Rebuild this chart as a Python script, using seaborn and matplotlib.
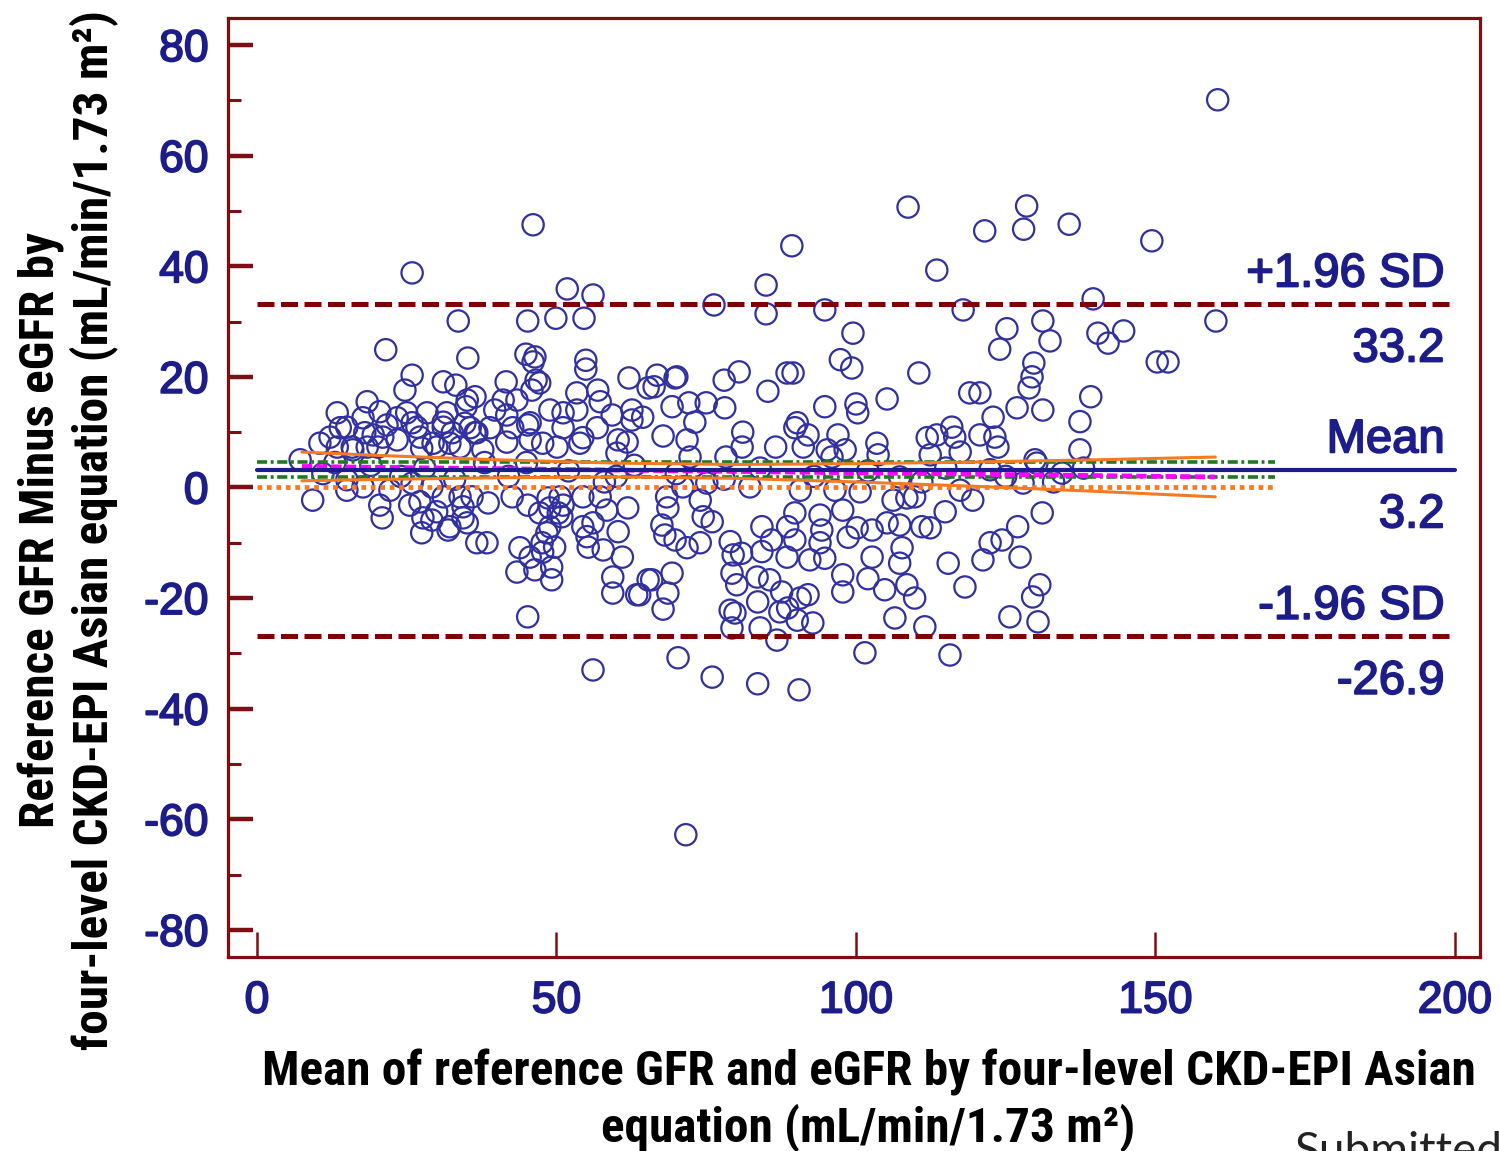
import matplotlib
matplotlib.use("Agg")
import matplotlib.pyplot as plt
from matplotlib import font_manager
import matplotlib.patheffects as pe
import numpy as np
import pandas as pd
import seaborn as sns

# ---- agreement statistics ----
sd_upper = 33.2
bias_mean = 3.2
sd_lower = -26.9
bias_ci = [4.6, 1.8]          # 95% CI of the mean difference
equality_level = 0.0

# regression of difference on mean, with its 95% confidence band
reg_x = [7.5, 160.0]
reg_y = [3.8, 1.9]
band_x = [7.5, 20, 40, 60, 80, 100, 120, 140, 160]
band_hi = [6.4, 5.8, 5.0, 4.4, 4.15, 4.3, 4.6, 5.0, 5.5]
band_lo = [1.2, 1.45, 1.75, 1.9, 1.65, 1.0, 0.2, -0.7, -1.7]

# ---- paired observations (mean of both methods, difference) ----
pts_outer = [
    (160.4, 70.1), (108.7, 50.7), (128.5, 50.9), (128.0, 46.7), (121.5, 46.4),
    (135.6, 47.6), (149.4, 44.6), (89.3, 43.7), (46.1, 47.5), (25.9, 38.8),
    (113.5, 39.3), (51.8, 35.9), (56.1, 34.8), (85.0, 36.6), (76.3, 33.0),
    (85.0, 31.4), (94.8, 32.1), (117.9, 32.1), (139.6, 34.1), (160.1, 30.1),
    (131.2, 30.1), (125.2, 28.7), (140.4, 27.9), (144.7, 28.3), (142.1, 26.1),
    (132.4, 26.5), (124.0, 25.0), (99.5, 27.9), (150.3, 22.7), (152.1, 22.7),
    (45.2, 30.1), (49.9, 30.6), (54.6, 30.6), (33.6, 30.1), (21.5, 24.9),
]
pts_upper_mid = [
    (97.4, 23.1), (99.3, 21.6), (110.5, 20.7), (129.7, 22.5), (129.4, 20.0),
    (128.9, 18.0), (131.2, 14.0), (139.2, 16.4), (137.4, 11.9), (119.0, 17.1),
    (120.7, 17.1), (126.9, 14.4), (122.9, 12.7), (123.2, 9.1), (123.7, 7.3),
    (120.7, 9.5), (116.0, 10.9), (116.5, 9.1), (117.4, 6.4), (111.9, 9.0),
    (113.5, 9.5), (112.4, 5.9), (105.2, 16.0), (100.3, 13.5), (100.0, 15.1),
    (94.8, 14.6), (89.5, 20.7), (88.5, 20.7), (85.3, 17.4), (80.5, 20.9),
    (78.0, 19.4), (78.1, 14.4), (75.0, 15.3), (72.1, 15.3), (73.1, 11.8),
    (71.8, 8.6), (67.8, 9.3), (69.3, 14.6), (69.8, 19.8), (66.8, 20.3),
    (66.3, 18.2), (64.4, 12.7), (81.1, 10.0), (81.0, 7.3), (78.3, 5.5),
    (86.6, 7.3), (89.8, 10.8), (91.2, 7.3), (92.0, 9.5), (95.2, 6.8),
    (97.0, 9.5), (96.0, 5.5), (103.5, 8.0), (103.7, 5.9), (130.2, 4.4),
    (127.9, 0.8), (70.1, 20.0), (90.2, 11.7), (137.4, 6.8), (129.9, 5.0),
    (134.4, 2.6), (72.3, 5.5), (107.3, 1.9), (122.4, 3.2), (98.2, 6.8),
]
pts_lower_mid = [
    (68.4, -1.7), (68.6, -3.7), (74.0, -2.3), (74.5, -5.3), (76.0, -6.2),
    (67.6, -6.8), (68.1, -8.6), (71.8, -10.9), (74.0, -10.0), (69.8, -9.5),
    (65.9, -16.7), (69.3, -15.5), (68.6, -19.1), (67.8, -22.0), (63.9, -19.4),
    (70.3, -30.8), (76.0, -34.3), (83.6, -35.5), (90.5, -36.6), (101.5, -29.9),
    (115.7, -30.3), (79.0, -9.8), (79.5, -12.2), (79.3, -15.5), (80.1, -17.6),
    (79.0, -22.2), (79.8, -22.7), (79.3, -25.4), (80.9, -11.9), (84.3, -7.1),
    (84.3, -11.6), (83.5, -16.2), (83.6, -20.7), (84.0, -25.4), (85.9, -9.5),
    (85.6, -16.7), (86.8, -27.6), (88.6, -7.1), (89.8, -9.5), (88.5, -12.6),
    (88.6, -21.8), (87.3, -22.5), (92.0, -19.4), (92.8, -24.5), (90.2, -24.0),
    (90.7, -20.0), (94.0, -5.0), (94.3, -7.7), (94.0, -10.0), (94.8, -12.8),
    (92.3, -13.1), (97.8, -4.1), (97.8, -15.8), (97.8, -18.9), (98.7, -9.0),
    (100.2, -7.3), (102.7, -7.7), (102.7, -12.6), (102.0, -16.5), (104.8, -18.5),
    (105.2, -6.4), (107.3, -6.8), (107.7, -10.9), (107.3, -13.7), (108.5, -17.6),
    (109.8, -20.0), (106.5, -23.6), (111.5, -25.2), (106.2, -2.3), (108.5, -1.9),
    (109.8, -1.7), (111.0, -7.1), (112.4, -7.3), (114.9, -4.4), (115.4, -13.7),
    (118.2, -18.0), (119.5, -2.3), (121.2, -13.1), (122.4, -10.0), (124.4, -9.5),
    (127.0, -7.1), (127.4, -12.6), (125.7, -23.4), (131.1, -4.6), (130.7, -17.6),
    (129.5, -19.8), (130.4, -24.3), (71.1, 0.1), (75.1, 0.8), (82.3, 0.1),
    (90.7, -0.5), (96.5, -0.5), (100.7, -0.8), (89.8, -4.6), (117.4, -0.5),
    (87.6, -18.9), (71.6, -62.8),
]
pts_upper_left = [
    (35.2, 23.4), (44.9, 24.1), (46.1, 22.7), (46.4, 23.6), (54.9, 23.0),
    (54.9, 21.4), (53.4, 17.1), (56.9, 17.6), (62.1, 19.8), (65.3, 18.0),
    (57.3, 15.5), (59.3, 13.1), (62.6, 14.0), (62.6, 12.2), (60.3, 8.6),
    (61.8, 8.2), (31.1, 19.1), (33.2, 18.5), (25.9, 20.3), (24.7, 17.6),
    (41.6, 19.1), (46.6, 19.4), (47.2, 18.9), (45.9, 17.6), (41.1, 15.8),
    (43.4, 15.8), (39.7, 14.0), (41.7, 13.1), (45.6, 11.7), (34.9, 14.6),
    (35.1, 15.8), (36.4, 16.4), (31.7, 13.5), (28.4, 13.5), (23.4, 12.6),
    (18.4, 15.5), (13.4, 13.5), (17.7, 12.6), (12.2, 9.1), (13.9, 10.8),
    (19.4, 9.5), (25.0, 13.5), (26.7, 10.9), (21.7, 11.3), (31.1, 10.9),
    (32.6, 9.9), (35.6, 10.8), (36.4, 9.9), (38.9, 10.8), (41.7, 8.2),
    (42.7, 10.8), (45.2, 11.3), (47.7, 8.0), (50.1, 7.3), (51.1, 10.8),
    (54.4, 9.0), (56.8, 10.8), (53.4, 14.0), (51.1, 13.5), (48.9, 14.0),
    (27.5, 7.1), (23.4, 8.6), (18.4, 7.3), (15.9, 7.3), (20.2, 7.3),
    (13.4, 7.3), (10.5, 8.0), (30.0, 7.3), (33.9, 7.3), (37.7, 6.8),
    (7.2, 5.0), (20.5, 13.7), (25.9, 11.7), (31.1, 11.8), (34.7, 11.6),
    (15.0, 10.9), (18.0, 9.9), (21.0, 9.1), (27.2, 9.1), (29.4, 8.0),
    (32.2, 8.0), (16.0, 6.8), (36.7, 9.9), (45.6, 8.6), (53.9, 8.0),
    (60.1, 6.2),
]
pts_lower_left = [
    (9.3, -2.3), (15.0, -0.5), (17.7, 0.1), (20.5, -3.2), (20.9, -5.5),
    (25.5, -3.2), (27.2, -2.6), (27.7, -5.5), (27.5, -8.2), (29.2, 0.1),
    (31.1, -1.7), (30.0, -4.4), (32.2, -7.1), (34.4, -3.5), (35.1, -6.4),
    (36.7, -10.0), (33.9, -1.7), (25.9, 0.8), (22.2, -0.5), (29.2, -5.9),
    (31.9, -7.7), (34.4, -5.5), (38.4, -10.0), (38.6, -2.8), (42.6, -1.7),
    (45.2, -3.2), (43.9, -10.9), (45.6, -12.6), (47.7, -11.7), (49.7, -10.8),
    (47.6, -10.0), (48.9, -7.1), (47.2, -4.6), (50.3, -4.6), (51.1, -3.2),
    (50.6, -1.7), (48.6, -1.9), (43.4, -15.3), (46.4, -14.9), (49.2, -14.4),
    (49.2, -16.7), (45.2, -23.4), (55.1, -8.9), (54.4, -7.1), (56.1, -6.4),
    (55.3, -10.8), (57.8, -11.3), (60.3, -8.0), (61.0, -12.6), (59.4, -16.2),
    (59.4, -19.1), (63.4, -19.4), (61.9, -3.7), (58.4, -4.1), (57.3, -1.7),
    (54.4, -1.7), (65.3, -16.7), (56.1, -33.0), (35.9, -1.7), (48.9, -3.7),
    (50.9, -5.3), (48.4, -8.2),
]
pts_near_bias = [
    (11.0, 2.5), (15.0, 1.4), (19.0, 4.0), (24.0, 2.0), (28.0, 3.5),
    (33.0, 1.5), (38.0, 4.5), (42.0, 2.0), (52.0, 3.0), (58.0, 1.0),
    (63.0, 4.0), (70.0, 2.5), (78.0, 1.5), (84.0, 3.5), (93.0, 2.0),
    (102.0, 3.0), (111.0, 1.0), (115.0, 3.5), (125.0, 2.0), (133.0, 1.0),
    (138.0, 3.5), (13.0, 4.5), (45.0, 4.5), (60.0, 2.0),
]

x_ticks = [0, 50, 100, 150, 200]
y_ticks = [-80, -60, -40, -20, 0, 20, 40, 60, 80]

all_pts = (pts_outer + pts_upper_mid + pts_lower_mid + pts_upper_left
           + pts_lower_left + pts_near_bias)
df = pd.DataFrame(all_pts, columns=["mean_gfr", "diff_gfr"])

# ---- styling ----
MAROON = "#7d0f12"
DASH_RED = "#800000"
NAVY = "#1c1c8a"
POINT = "#3030a0"
GREEN = "#1f7a1f"
ORANGE = "#f57a22"
MAGENTA = "#ff00ff"

sns.set_theme(style="white")
available = {f.name for f in font_manager.fontManager.ttflist}
label_family = next((f for f in ["Liberation Sans Narrow", "Roboto Condensed",
                                  "Open Sans Condensed", "Lato"] if f in available),
                    "DejaVu Sans")
plt.rcParams["font.family"] = ["Liberation Sans", "DejaVu Sans"]

heavy = [pe.withStroke(linewidth=1.3, foreground=NAVY)]

fig = plt.figure(figsize=(15, 11.51), dpi=100)
fig.patch.set_facecolor("white")
ax = fig.add_axes([0.152, 0.1686, 0.8347, 0.8158])

sns.scatterplot(data=df, x="mean_gfr", y="diff_gfr", ax=ax, marker="o", s=235,
                facecolor="none", edgecolor=POINT, linewidth=1.6, zorder=2,
                legend=False)

# limits of agreement and mean bias
for lvl in (sd_upper, sd_lower):
    ax.plot([0, 200], [lvl, lvl], color=DASH_RED, lw=3.6, dashes=(3.4, 1.3),
            dash_capstyle="butt", zorder=4)
ax.plot([0, 200], [bias_mean, bias_mean], color=NAVY, lw=3.0, zorder=5)

# confidence interval of the bias
for lvl in bias_ci:
    ax.plot([0, 170], [lvl, lvl], color=GREEN, lw=2.6,
            dashes=(2.8, 1.0, 0.8, 1.0), zorder=4)

# line of equality
ax.plot([0, 170], [equality_level, equality_level], color=ORANGE, lw=3.4,
        dashes=(1.0, 1.0), dash_capstyle="butt", zorder=4)

# regression line and its confidence band
ax.plot(reg_x, reg_y, color=MAGENTA, lw=3.4, dashes=(2.2, 0.9), zorder=4)
ax.plot(band_x, band_hi, color=ORANGE, lw=2.2, zorder=4)
ax.plot(band_x, band_lo, color=ORANGE, lw=2.2, zorder=4)

# right-hand annotations
ann_kw = dict(xycoords="data", textcoords="offset points", ha="right",
              va="baseline", fontsize=34, color=NAVY, zorder=6,
              path_effects=heavy)
x_text = 198.3
for lvl, above, below in [(sd_upper, "+1.96 SD", f"{sd_upper:.1f}"),
                          (bias_mean, "Mean", f"{bias_mean:.1f}"),
                          (sd_lower, "-1.96 SD", f"{sd_lower:.1f}")]:
    ax.annotate(above, (x_text, lvl), xytext=(0, 12.5), **ann_kw)
    ax.annotate(below, (x_text, lvl), xytext=(0, -41.5), **ann_kw)

# axes
ax.set_xlim(-4.84, 204.2)
ax.set_ylim(-84.9, 84.9)
ax.set_xticks(x_ticks)
ax.set_xticklabels([str(t) for t in x_ticks])
ax.set_yticks(y_ticks)
ax.set_yticklabels([str(t) for t in y_ticks])
ax.set_yticks(np.arange(-70, 80, 20), minor=True)
ax.set_xlabel("")
ax.set_ylabel("")
ax.grid(False)
for sp in ax.spines.values():
    sp.set_visible(True)
    sp.set_color(MAROON)
    sp.set_linewidth(2.3)
ax.tick_params(axis="y", which="major", direction="in", length=18, width=3.2,
               color=MAROON, labelsize=32, labelcolor=NAVY, pad=14, left=True)
ax.tick_params(axis="y", which="minor", direction="in", length=9, width=2.2,
               color=MAROON, left=True)
ax.tick_params(axis="x", which="major", direction="in", length=18, width=1.8,
               color=MAROON, labelsize=32, labelcolor=NAVY, pad=17, bottom=True)
for lab in ax.get_xticklabels() + ax.get_yticklabels():
    lab.set_path_effects(heavy)

# axis titles
title_kw = dict(fontsize=35.5, fontweight="bold", family=label_family,
                color="black")
fig.text(0.579, 1 - 1072 / 1151,
         "Mean of reference GFR and eGFR by four-level CKD-EPI Asian",
         ha="center", va="center", **title_kw)
fig.text(0.579, 1 - 1128 / 1151, "equation (mL/min/1.73 m\u00b2)",
         ha="center", va="center", **title_kw)
fig.text(0.0453, 0.5395,
         "Reference GFR Minus eGFR by\n"
         "four-level CKD-EPI Asian equation (mL/min/1.73 m\u00b2)",
         ha="center", va="center", rotation=90, multialignment="center",
         linespacing=1.1, **title_kw)
fig.text(0.863, 1 - 1131 / 1151, "Submitted", ha="left", va="top",
         fontsize=33, family=["Lato", "DejaVu Sans"], color="#222222")

fig.savefig("out.png", dpi=100, facecolor="white")
